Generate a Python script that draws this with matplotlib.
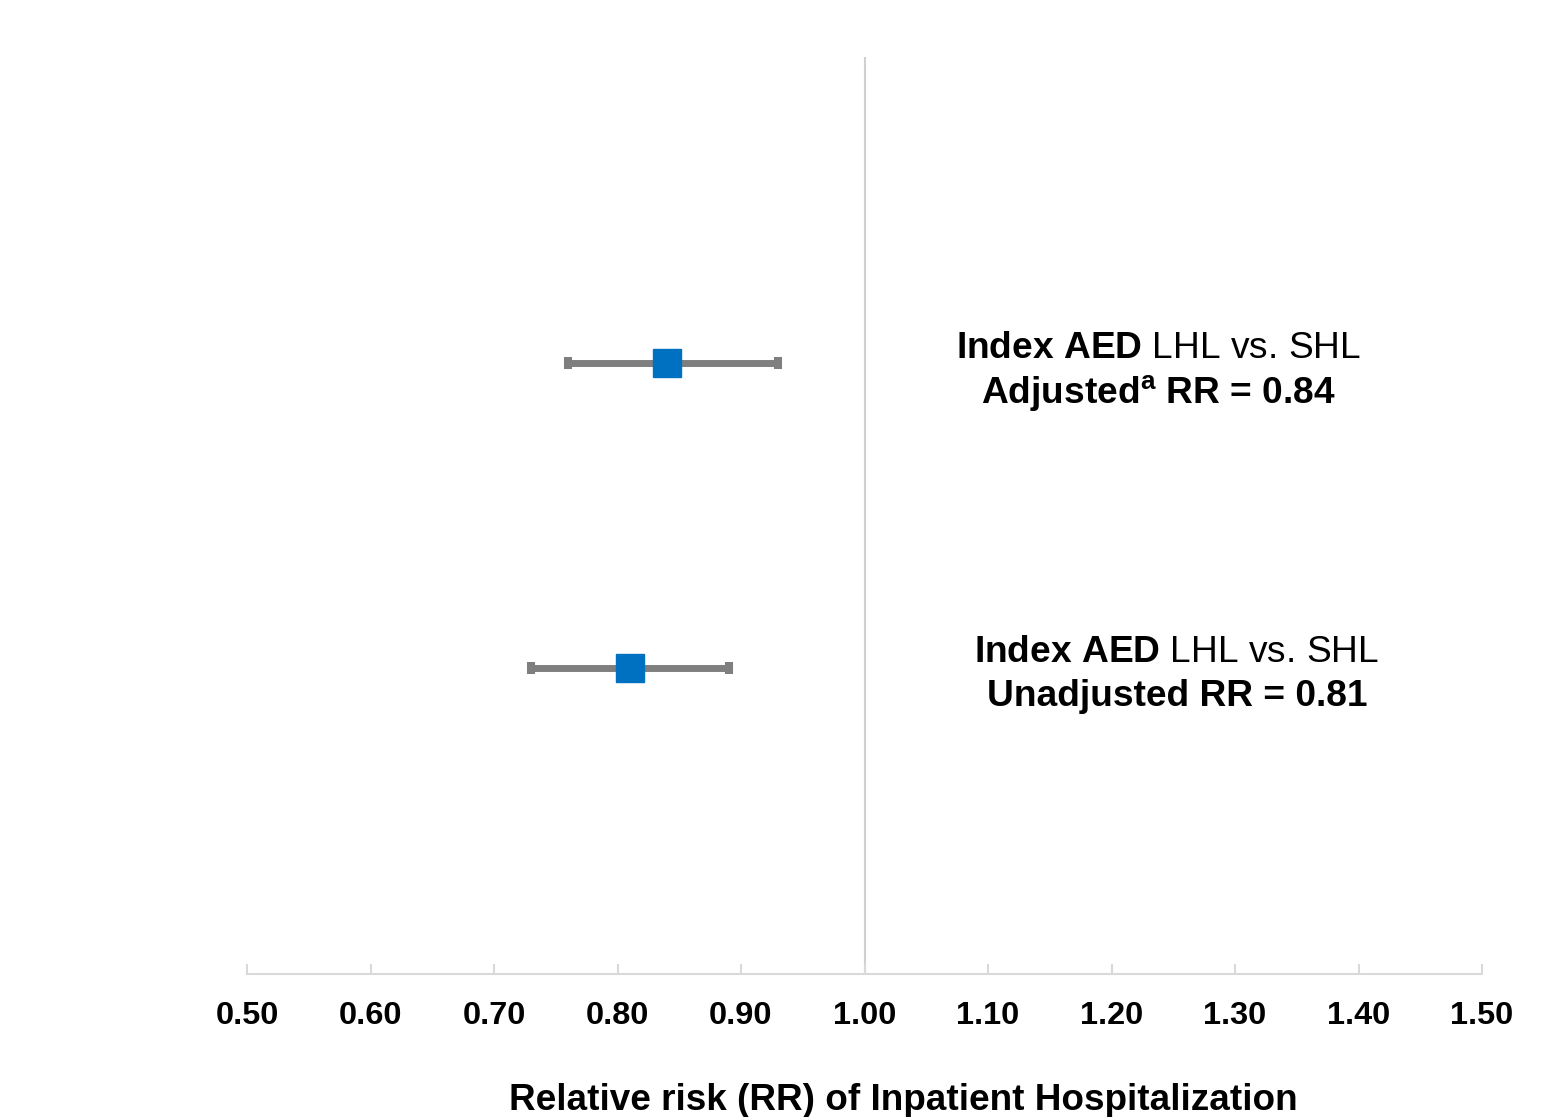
import matplotlib
matplotlib.use("Agg")
import matplotlib.pyplot as plt

# Data
labels = ["Unadjusted", "Adjusted"]
rr = [0.81, 0.84]
ci_low = [0.73, 0.76]
ci_high = [0.89, 0.93]
ypos = [1, 2]
xticks = [0.50, 0.60, 0.70, 0.80, 0.90, 1.00, 1.10, 1.20, 1.30, 1.40, 1.50]

plt.rcParams['font.family'] = ['Liberation Sans', 'DejaVu Sans']
plt.rcParams['mathtext.fontset'] = 'custom'
plt.rcParams['mathtext.rm'] = 'Liberation Sans'
plt.rcParams['mathtext.bf'] = 'Liberation Sans:bold'
plt.rcParams['mathtext.it'] = 'Liberation Sans:italic'

W, H = 1556, 1117
fig = plt.figure(figsize=(W / 100, H / 100), dpi=100)
ax = fig.add_axes([247 / W, (H - 974) / H, (1482 - 247) / W, (974 - 57) / H])

ax.set_xlim(0.5, 1.5)
ax.set_ylim(0, 3)

ax.axvline(1.0, color='#d0d0d0', lw=1.5, zorder=1)

err = [[r - l for r, l in zip(rr, ci_low)], [h - r for r, h in zip(rr, ci_high)]]
ax.errorbar(rr, ypos, xerr=err, fmt='none', ecolor='#7f7f7f', elinewidth=5,
            capsize=4.3, capthick=5.8, zorder=2)
ax.plot(rr, ypos, 's', color='#0070C0', markersize=20, zorder=3, linestyle='none')

for s in ['top', 'right', 'left']:
    ax.spines[s].set_visible(False)
ax.spines['bottom'].set_color('#d9d9d9')
ax.spines['bottom'].set_linewidth(1.5)
ax.set_yticks([])
ax.set_xticks(xticks)
ax.set_xticklabels([f"{t:.2f}" for t in xticks], fontsize=23.4, fontweight='bold')
ax.tick_params(axis='x', direction='in', length=7, width=1.5, color='#d9d9d9', pad=19.5)

fig.text(903 / W, 1 - 1100 / H, "Relative risk (RR) of Inpatient Hospitalization",
         ha='center', va='center', fontsize=26.6, fontweight='bold')

tk = dict(ha='center', va='center', fontsize=26.7)
ax.text(1.238, 2.047, r"$\mathbf{Index\ AED}$ LHL vs. SHL", **tk)
ax.text(1.238, 1.900, r"Adjusted$^{\mathbf{a}}$ RR = 0.84", fontweight='bold', **tk)
ax.text(1.253, 1.053, r"$\mathbf{Index\ AED}$ LHL vs. SHL", **tk)
ax.text(1.253, 0.909, "Unadjusted RR = 0.81", fontweight='bold', **tk)

fig.savefig("out.png", dpi=100)
